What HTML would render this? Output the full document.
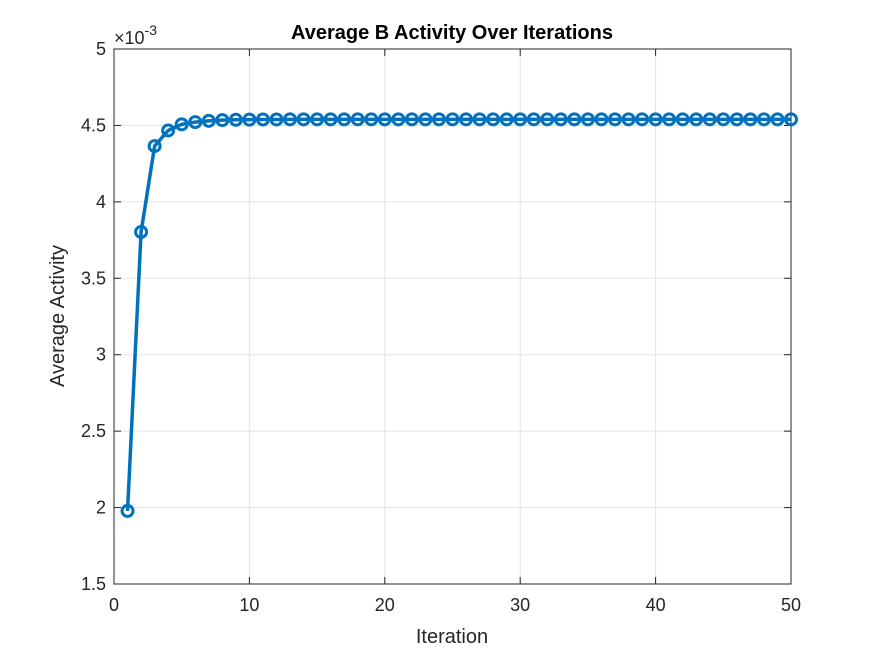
<!DOCTYPE html>
<html><head><meta charset="utf-8"><style>
body{margin:0;background:#fff;font-family:"Liberation Sans",sans-serif;}
svg text{font-family:"Liberation Sans",sans-serif;}
</style></head><body>
<svg id="chart" width="875" height="656">
<rect width="875" height="656" fill="#fff"/>
<g id="grid"></g><g id="axes"></g><g id="series"></g>
<text x="452" y="39" text-anchor="middle" font-size="20" font-weight="bold" fill="#000">Average B Activity Over Iterations</text>
<text x="452" y="643" text-anchor="middle" font-size="20" fill="#262626">Iteration</text>
<text transform="translate(64,316) rotate(-90)" text-anchor="middle" font-size="20" fill="#262626">Average Activity</text>
<text x="114" y="44" font-size="18" fill="#262626">×10<tspan dy="-9" font-size="14">-3</tspan></text>
</svg>
<script>
const iterations=[];for(let i=1;i<=50;i++)iterations.push(i);
const activity=[1.978,3.803,4.365,4.467,4.507,4.522,4.530,4.535,4.537,4.538,4.539,4.539,4.540,4.540,4.540,4.540,4.540,4.540,4.540,4.540,4.540,4.540,4.540,4.540,4.540,4.540,4.540,4.540,4.540,4.540,4.540,4.540,4.540,4.540,4.540,4.540,4.540,4.540,4.540,4.540,4.540,4.540,4.540,4.540,4.540,4.540,4.540,4.540,4.540,4.540];
const xTicks=[0,10,20,30,40,50];
const yTicks=[1.5,2,2.5,3,3.5,4,4.5,5];
const L=114,R=791,T=49,B=584,NS="http://www.w3.org/2000/svg";
const xs=v=>L+(v-0)/(50-0)*(R-L);
const ys=v=>B-(v-1.5)/(5-1.5)*(B-T);
function mk(tag,attrs,parent){const e=document.createElementNS(NS,tag);for(const k in attrs)e.setAttribute(k,attrs[k]);parent.appendChild(e);return e;}
const grid=document.getElementById('grid'),axes=document.getElementById('axes'),ser=document.getElementById('series');
mk('rect',{x:L,y:T,width:R-L,height:B-T,fill:'#fff'},grid);
xTicks.forEach(t=>{const x=xs(t);
 const g=mk('line',{x1:x,x2:x,y1:T,y2:B,stroke:'#e3e3e3','stroke-width':1},grid);
 
 mk('line',{x1:x,x2:x,y1:B,y2:B-7,stroke:'#262626'},axes);mk('line',{x1:x,x2:x,y1:T,y2:T+7,stroke:'#262626'},axes);
 const tx=mk('text',{x:x,y:B+27,'text-anchor':'middle','font-size':18,fill:'#262626'},axes);tx.textContent=t;
 });
yTicks.forEach(t=>{const y=ys(t);
 const g=mk('line',{x1:L,x2:R,y1:y,y2:y,stroke:'#e3e3e3','stroke-width':1},grid);
 
 mk('line',{x1:L,x2:L+7,y1:y,y2:y,stroke:'#262626'},axes);mk('line',{x1:R,x2:R-7,y1:y,y2:y,stroke:'#262626'},axes);
 const tx=mk('text',{x:L-8,y:y+6,'text-anchor':'end','font-size':18,fill:'#262626'},axes);tx.textContent=t;
 });
const box=mk('rect',{x:L,y:T,width:R-L,height:B-T,fill:'none',stroke:'#262626','stroke-width':1},axes);

const pts=iterations.map((v,i)=>xs(v)+','+ys(activity[i])).join(' ');
const line=mk('polyline',{points:pts,fill:'none',stroke:'#0072bd','stroke-width':3.5,'stroke-linejoin':'round'},ser);

iterations.forEach((v,i)=>{const c=mk('circle',{cx:xs(v),cy:ys(activity[i]),r:5.5,fill:'none',stroke:'#0072bd','stroke-width':3},ser);
 });
</script>
</body></html>
